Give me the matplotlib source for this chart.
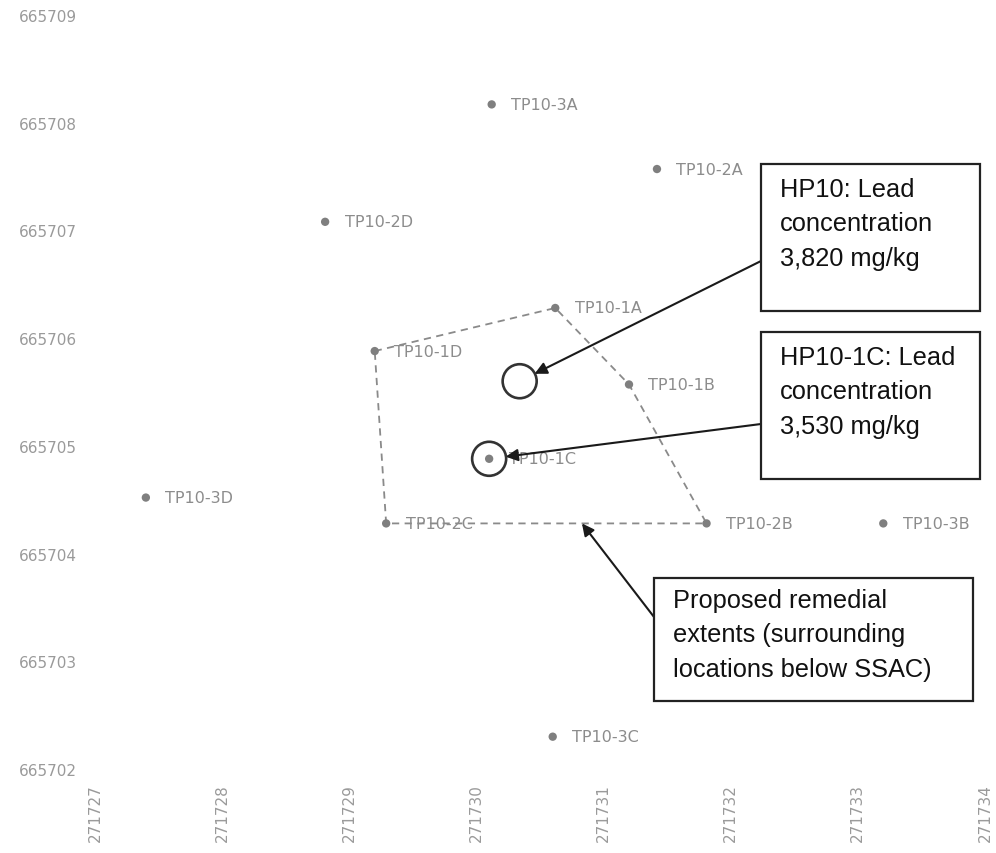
import matplotlib
matplotlib.use("Agg")
import matplotlib.pyplot as plt
from matplotlib.patches import Rectangle

# ---- data ----
point_labels = ["TP10-3A", "TP10-2A", "TP10-2D", "TP10-1A", "TP10-1D", "TP10-1B",
                "TP10-1C", "TP10-3D", "TP10-2C", "TP10-2B", "TP10-3B", "TP10-3C"]
easting = [271730.12, 271731.42, 271728.81, 271730.62, 271729.20, 271731.20,
           271730.10, 271727.40, 271729.29, 271731.81, 271733.20, 271730.60]
northing = [665708.17, 665707.57, 665707.08, 665706.28, 665705.88, 665705.57,
            665704.88, 665704.52, 665704.28, 665704.28, 665704.28, 665702.30]

extent_order = ["TP10-1D", "TP10-1A", "TP10-1B", "TP10-2B", "TP10-2C", "TP10-1D"]

hotspot_names = ["HP10", "HP10-1C"]
hotspot_e = [271730.34, 271730.10]
hotspot_n = [665705.60, 665704.88]

extent_arrow_target = (271730.83, 665704.28)

x_ticks = [271727, 271728, 271729, 271730, 271731, 271732, 271733, 271734]
y_ticks = [665702, 665703, 665704, 665705, 665706, 665707, 665708, 665709]

box_texts = ["HP10: Lead\nconcentration\n3,820 mg/kg",
             "HP10-1C: Lead\nconcentration\n3,530 mg/kg",
             "Proposed remedial\nextents (surrounding\nlocations below SSAC)"]

# ---- figure ----
W, H = 996, 854
fig = plt.figure(figsize=(W / 100, H / 100), dpi=100)
ax = fig.add_axes([95 / W, 1 - 770 / H, (985 - 95) / W, (770 - 16) / H])
ax.set_xlim(x_ticks[0], x_ticks[-1])
ax.set_ylim(y_ticks[0], y_ticks[-1])
for s in ax.spines.values():
    s.set_visible(False)

tick_col = "#9a9a9a"
ax.set_xticks(x_ticks)
ax.set_xticklabels([str(v) for v in x_ticks], rotation=90, color=tick_col,
                   fontsize=11)
ax.set_yticks(y_ticks)
ax.set_yticklabels([str(v) for v in y_ticks], color=tick_col, fontsize=11)
ax.tick_params(axis="both", length=0)
ax.tick_params(axis="y", pad=13)
ax.tick_params(axis="x", pad=10)

# dashed remedial extent
idx = {n: i for i, n in enumerate(point_labels)}
px = [easting[idx[n]] for n in extent_order]
py = [northing[idx[n]] for n in extent_order]
ax.plot(px, py, linestyle=(0, (4, 3)), color="#8a8a8a", lw=1.3, zorder=2)

# points
ax.scatter(easting, northing, s=36, color="#7f7f7f", zorder=3, edgecolors="none")
for name, x, y in zip(point_labels, easting, northing):
    ax.annotate(name, (x, y), xytext=(14, 0), textcoords="offset points",
                va="center", ha="left", fontsize=11.5, color="#8c8c8c", zorder=4)

# hotspot circles
ax.scatter(hotspot_e, hotspot_n, s=600, facecolors="none", edgecolors="#333333",
           linewidths=1.9, zorder=5)

# annotation boxes
def fx(p):
    return p / W

def fy(p):
    return 1 - p / H

boxes = [(761, 165, 980, 312), (761, 333, 980, 480), (654, 579, 973, 702)]
text_pos = [(780, 178), (780, 346), (673, 589)]
for (l, t, r, b), (tx, ty), txt in zip(boxes, text_pos, box_texts):
    fig.patches.append(Rectangle((fx(l), fy(b)), fx(r) - fx(l), fy(t) - fy(b),
                                 transform=fig.transFigure, facecolor="white",
                                 edgecolor="#222222", lw=1.6, zorder=6))
    fig.text(fx(tx), fy(ty), txt, ha="left", va="top", fontsize=18.3,
             family="Liberation Sans", color="#111111", linespacing=1.55, zorder=7)

arrow_kw = dict(arrowstyle="-|>", color="#1a1a1a", lw=1.5, mutation_scale=18)
starts = [(761, 262), (761, 425)]
for (sx, sy), he, hn in zip(starts, hotspot_e, hotspot_n):
    ax.annotate("", xy=(he, hn), xycoords="data",
                xytext=(fx(sx), fy(sy)), textcoords="figure fraction",
                arrowprops=dict(shrinkA=0, shrinkB=12, **arrow_kw), zorder=6)
ax.annotate("", xy=extent_arrow_target, xycoords="data",
            xytext=(fx(654), fy(618)), textcoords="figure fraction",
            arrowprops=dict(shrinkA=0, shrinkB=0, **arrow_kw), zorder=6)

fig.savefig("out.png", dpi=100, facecolor="white")
